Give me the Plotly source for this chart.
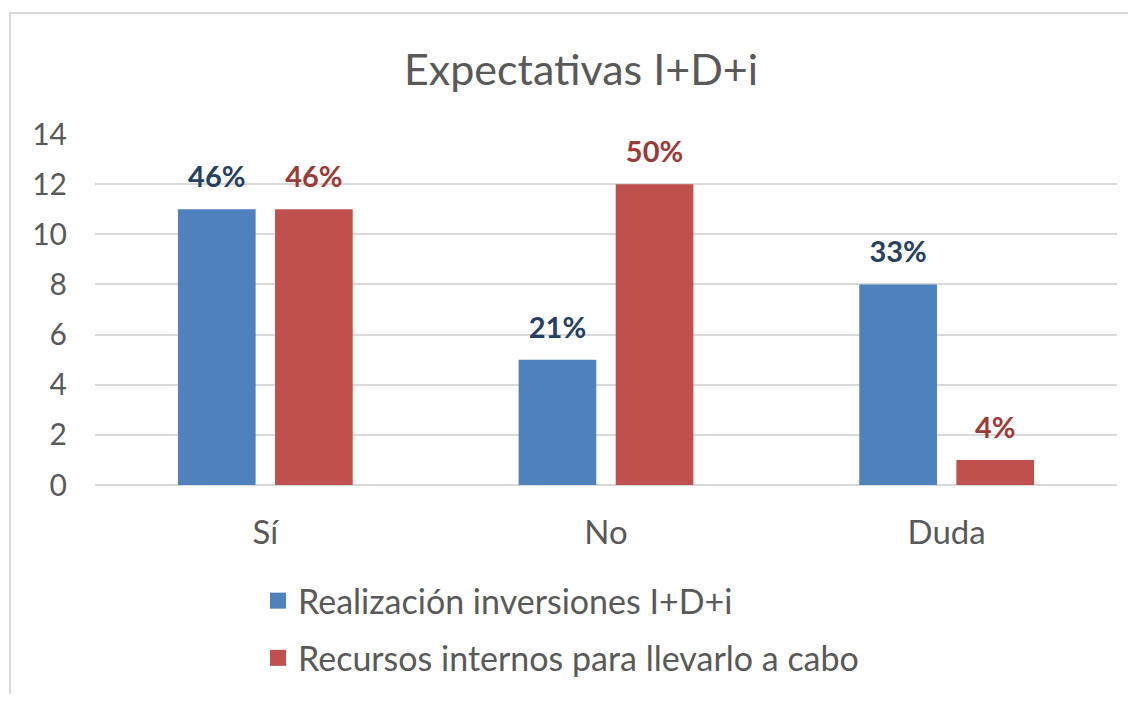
import plotly.graph_objects as go

# Chart data.
categories = ["Sí", "No", "Duda"]
series_names = ["Realización inversiones I+D+i", "Recursos internos para llevarlo a cabo"]
inversiones = [11, 5, 8]
recursos = [11, 12, 1]
inversiones_pct = ["46%", "21%", "33%"]
recursos_pct = ["46%", "50%", "4%"]
y_ticks = [0, 2, 4, 6, 8, 10, 12, 14]

FONT = "Lato, 'Open Sans', sans-serif"
BAR_COLORS = ["#4F81BD", "#C0504D"]
LABEL_COLORS = ["#254061", "#9B3B38"]
TEXT_GRAY = "#595959"

fig = go.Figure()

for idx, (name, values, pct, color, label_color) in enumerate(zip(
    series_names,
    [inversiones, recursos],
    [inversiones_pct, recursos_pct],
    BAR_COLORS,
    LABEL_COLORS,
)):
    group = f"g{idx}"
    fig.add_trace(
        go.Bar(
            x=categories,
            y=values,
            name=name,
            legendgroup=name,
            offsetgroup=group,
            showlegend=False,
            marker=dict(color=color, line=dict(width=0)),
            customdata=pct,
            hovertemplate="%{x}: %{y} (%{customdata})<extra>" + name + "</extra>",
        )
    )
    # Percentage labels sit a little higher above the bars than Plotly's own outside text.
    fig.add_trace(
        go.Scatter(
            x=categories,
            y=values,
            mode="markers+text",
            offsetgroup=group,
            text=pct,
            textposition="top center",
            marker=dict(size=22, opacity=0),
            textfont=dict(family=FONT, size=29, color=label_color, weight="bold"),
            cliponaxis=False,
            showlegend=False,
            hoverinfo="skip",
        )
    )
    # Legend-only entry so the swatch can be a larger square.
    fig.add_trace(
        go.Scatter(
            x=[None],
            y=[None],
            mode="markers",
            name=name,
            legendgroup=name,
            marker=dict(symbol="square", size=20, color=color),
        )
    )

fig.update_layout(
    width=1128,
    height=686,
    paper_bgcolor="white",
    plot_bgcolor="white",
    title=dict(
        text="Expectativas I+D+i",
        x=0.508,
        xanchor="center",
        y=0.9096,
        yanchor="middle",
        font=dict(family=FONT, size=43, color=TEXT_GRAY),
    ),
    margin=dict(l=87, r=19, t=126, b=209, autoexpand=False),
    barmode="group",
    bargap=0.43,
    bargroupgap=0.2,
    scattermode="group",
    scattergap=0.43,
    xaxis=dict(
        tickfont=dict(family=FONT, size=33, color=TEXT_GRAY),
        showgrid=False,
        showline=False,
        ticks="",
        ticklabelstandoff=25,
    ),
    yaxis=dict(
        range=[0, 14],
        tickvals=y_ticks,
        tickfont=dict(family=FONT, size=30, color=TEXT_GRAY),
        gridcolor="#D9D9D9",
        gridwidth=1.5,
        zeroline=True,
        zerolinecolor="#D9D9D9",
        zerolinewidth=1.5,
        ticks="",
        ticklabelstandoff=27,
    ),
    legend=dict(
        orientation="v",
        x=0.1595,
        xanchor="left",
        y=-0.248,
        yanchor="top",
        font=dict(family=FONT, size=34, color=TEXT_GRAY),
        tracegroupgap=10,
        bgcolor="rgba(0,0,0,0)",
    ),
    showlegend=True,
    shapes=[
        dict(
            type="rect",
            xref="paper",
            yref="paper",
            x0=-0.0832,
            x1=1.2,
            y0=-1.0,
            y1=1.3447,
            line=dict(color="#D9D9D9", width=2),
            fillcolor="rgba(0,0,0,0)",
            layer="below",
        )
    ],
)

fig.write_html("out.html")
